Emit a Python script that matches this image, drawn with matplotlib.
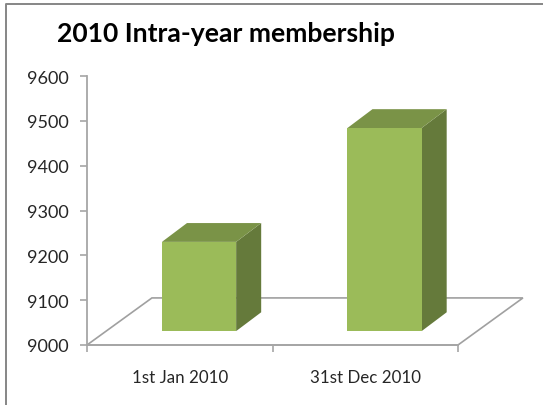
import matplotlib
matplotlib.use('Agg')
import matplotlib.pyplot as plt
from matplotlib.patches import Polygon, Rectangle

title = '2010 Intra-year membership'
categories = ['1st Jan 2010', '31st Dec 2010']
values = [9199, 9453]
yticks = [9000, 9100, 9200, 9300, 9400, 9500, 9600]

w, h = 543, 406
front_color = '#9bbb59'
top_color = '#7a9347'
side_color = '#657a3b'
axis_color = '#a6a6a6'
floor_color = '#a0a0a0'

# 3d depth in data units
floor_dx, floor_dy = 0.35, 105
bar_left = 0.404
bar_w = 0.40
bar_base = 31
bar_dx, bar_dy = 0.135, 42

plt.rcParams['font.family'] = ['Lato', 'DejaVu Sans']
fig = plt.figure(figsize=(w/100, h/100), dpi=100)
ax = fig.add_axes([87/w, (h-346)/h, 371/w, 269/h])
ax.set_xlim(0, 2)
ax.set_ylim(9000, 9600)
ax.patch.set_visible(False)

# outer chart frame, only left and top are inside the picture
fig.add_artist(plt.Line2D([5.5/w, 5.5/w, 1], [0, (h-5)/h, (h-5)/h],
                          color='#868686', lw=1.4))

# floor
floor = [(0, 9000), (2, 9000), (2+floor_dx, 9000+floor_dy), (floor_dx, 9000+floor_dy)]
ax.add_patch(Polygon(floor, closed=True, fc='white', ec=floor_color, lw=1.2,
                     clip_on=False, zorder=1))

for i, v in enumerate(values):
    x0 = i + bar_left
    x1 = x0 + bar_w
    y0 = 9000 + bar_base
    # values are read against the base of the front face
    y1 = v + bar_base
    ax.add_patch(Polygon([(x1, y0), (x1+bar_dx, y0+bar_dy), (x1+bar_dx, y1+bar_dy), (x1, y1)],
                         closed=True, fc=side_color, ec='none', clip_on=False, zorder=2))
    ax.add_patch(Polygon([(x0, y1), (x1, y1), (x1+bar_dx, y1+bar_dy), (x0+bar_dx, y1+bar_dy)],
                         closed=True, fc=top_color, ec='none', clip_on=False, zorder=2))
    ax.add_patch(Rectangle((x0, y0), bar_w, y1-y0, fc=front_color, ec='none',
                           clip_on=False, zorder=3))

for s in ['top', 'right']:
    ax.spines[s].set_visible(False)
for s in ['left', 'bottom']:
    ax.spines[s].set_color(axis_color)
    ax.spines[s].set_linewidth(1.3)

ax.set_yticks(yticks)
ax.set_xticks([0, 1, 2])
ax.set_xticklabels([])
ax.set_xticks([0.5, 1.5], minor=True)
ax.set_xticklabels(categories, minor=True)
ax.tick_params(axis='x', which='minor', length=0, pad=17, labelsize=12.2, labelcolor='#262626')
ax.tick_params(axis='x', which='major', length=5, width=1.2, color=axis_color)
ax.tick_params(axis='y', length=5, width=1.2, color=axis_color, pad=8,
               labelsize=13, labelcolor='#262626')

fig.text(57/w, (h-34)/h, title, fontsize=19.1, fontweight='bold', color='black',
         ha='left', va='center')

fig.savefig('out.png', dpi=100)
